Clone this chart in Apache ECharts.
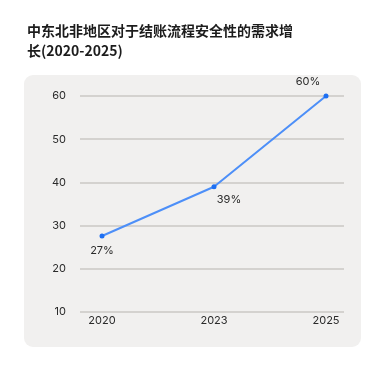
<!DOCTYPE html>
<html><head><meta charset="utf-8">
<script src="https://cdn.jsdelivr.net/npm/echarts@6/dist/echarts.min.js"></script>
<style>html,body{margin:0;padding:0;background:#fff}#c{width:383px;height:371px}</style>
</head><body><div id="c"></div>
<script>
const titleText = '中东北非地区对于结账流程安全性的需求增\n长(2020-2025)';
const categories = ['2020', '2023', '2025'];
const values = [27.6, 39, 60];
const pointLabels = ['27%', '39%', '60%'];
const yTicks = [10, 20, 30, 40, 50, 60];

const labelPos = [
  {position: 'bottom', offset: [0, 2]},
  {position: 'bottom', offset: [15, 0]},
  {position: 'top', offset: [-18, -1]}
];

const chart = echarts.init(document.getElementById('c'));
chart.setOption({
  backgroundColor: '#ffffff',
  animation: false,
  graphic: [{
    type: 'rect', z: -10, silent: true,
    shape: {x: 24, y: 75, width: 337, height: 272, r: 9},
    style: {fill: '#f1f0ef'}
  }],
  title: {
    text: titleText, left: 22, top: 16,
    textStyle: {fontFamily: 'Noto Sans CJK SC', fontSize: 14, fontWeight: 'bold', color: '#1c1c1c', lineHeight: 20}
  },
  grid: [
    {left: 80, right: 39, top: 96, bottom: 59},
    {left: 102, right: 57, top: 96, bottom: 59}
  ],
  xAxis: [
    {gridIndex: 0, type: 'category', data: categories, show: false},
    {gridIndex: 1, type: 'category', data: categories, boundaryGap: false,
     axisLine: {show: false}, axisTick: {show: false},
     axisLabel: {margin: 3, fontSize: 11, color: '#2a2a2a', fontFamily: 'Inter'}}
  ],
  yAxis: [
    {gridIndex: 0, type: 'value', min: yTicks[0], max: yTicks[yTicks.length - 1], interval: 10,
     axisLine: {show: false}, axisTick: {show: false},
     axisLabel: {margin: 14, fontSize: 11, color: '#2a2a2a', fontFamily: 'Inter'},
     splitLine: {lineStyle: {color: '#d4d2cf', width: 2}}},
    {gridIndex: 1, type: 'value', min: yTicks[0], max: yTicks[yTicks.length - 1], interval: 10, show: false,
     splitLine: {show: false}}
  ],
  series: [{
    type: 'line', xAxisIndex: 1, yAxisIndex: 1,
    data: values.map((v, i) => ({value: v, label: Object.assign({show: true, formatter: pointLabels[i]}, labelPos[i])})),
    symbol: 'circle', symbolSize: 5,
    itemStyle: {color: '#1d6ff2'},
    lineStyle: {color: '#4d8ff8', width: 2},
    label: {show: true, fontSize: 11, color: '#2a2a2a', fontFamily: 'Inter'}
  }]
});
</script></body></html>
